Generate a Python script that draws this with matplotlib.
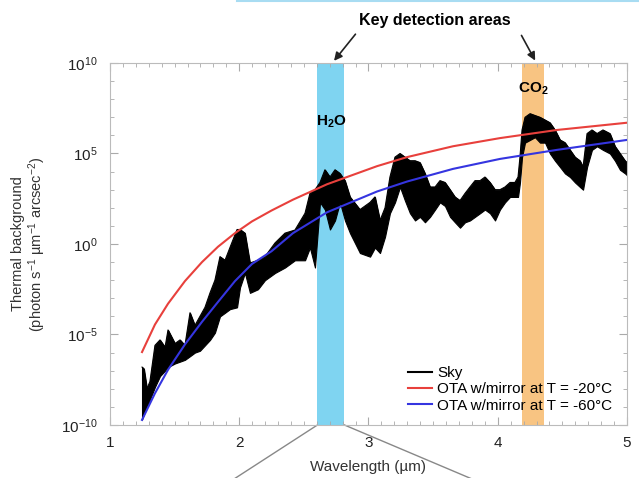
import numpy as np
import matplotlib
matplotlib.use("Agg")
import matplotlib.pyplot as plt
from matplotlib.lines import Line2D
from matplotlib.ticker import LogLocator, MultipleLocator, NullFormatter

plt.rcParams['font.family'] = ['Liberation Sans', 'DejaVu Sans']
plt.rcParams['mathtext.default'] = 'regular'

# sky spectrum, upper / lower envelope (log10 photon s-1 um-1 arcsec-2)
sky_wl = [1.248, 1.263, 1.286, 1.309, 1.348, 1.387, 1.426, 1.449, 1.503, 1.542,
          1.580, 1.619, 1.657, 1.696, 1.735, 1.774, 1.812, 1.851, 1.890, 1.928,
          1.983, 2.006, 2.044, 2.083, 2.145, 2.199, 2.277, 2.354, 2.431, 2.509,
          2.547, 2.586, 2.625, 2.663, 2.702, 2.741, 2.779, 2.818, 2.857, 2.934,
          3.012, 3.050, 3.089, 3.128, 3.166, 3.205, 3.244, 3.282, 3.321, 3.360,
          3.398, 3.437, 3.476, 3.515, 3.553, 3.592, 3.631, 3.669, 3.708, 3.747,
          3.785, 3.824, 3.863, 3.901, 3.940, 3.979, 4.017, 4.056, 4.095, 4.133,
          4.157, 4.172, 4.188, 4.211, 4.250, 4.288, 4.327, 4.366, 4.404, 4.443,
          4.482, 4.520, 4.559, 4.598, 4.636, 4.660, 4.691, 4.729, 4.768, 4.814,
          4.868, 4.907, 4.946, 4.985, 5.000]
sky_hi = [-6.8, -6.9, -8.0, -7.6, -5.6, -5.3, -5.7, -4.75, -5.5, -5.3,
          -5.6, -3.8, -4.5, -4.0, -3.5, -2.7, -2.0, -0.7, -0.9, -0.2,
          0.8, 0.8, 0.6, -1.05, -0.9, -0.7, 0.06, 0.6, 0.77, 1.7,
          2.8, 3.0, 3.4, 4.1, 3.7, 4.1, 3.9, 3.5, 2.6, 1.9,
          2.3, 2.6, 1.3, 2.0, 3.7, 4.8, 5.0, 4.8, 4.6, 4.6,
          4.5, 3.9, 3.15, 3.15, 3.5, 3.4, 3.0, 2.6, 2.4, 2.8,
          3.15, 3.5, 3.5, 3.7, 3.4, 3.0, 3.0, 3.15, 3.4, 3.4,
          3.7, 4.8, 6.3, 7.0, 7.2, 7.1, 7.0, 6.85, 6.7, 6.3,
          5.75, 5.6, 5.2, 4.8, 4.6, 4.25, 6.1, 6.3, 6.1, 6.3,
          6.1, 5.4, 5.0, 4.6, 4.5]
sky_lo = [-9.7, -9.4, -9.0, -8.6, -7.9, -7.3, -7.0, -6.8, -6.6, -6.5,
          -6.4, -6.2, -6.0, -5.9, -5.6, -5.3, -4.9, -4.0, -3.8, -3.6,
          -3.5, -2.4, -1.6, -2.7, -2.5, -2.0, -1.6, -1.3, -0.9, -0.9,
          -0.2, -1.3, 2.3, 1.9, 0.8, 1.3, 2.3, 1.3, 0.6, -0.5,
          -0.7, -0.2, -0.5, 0.4, 1.7, 2.3, 3.15, 2.4, 1.7, 1.3,
          1.5, 1.2, 1.5, 1.9, 2.3, 2.1, 1.5, 1.2, 0.9, 1.2,
          1.3, 1.5, 1.7, 1.9, 1.7, 1.3, 1.9, 2.3, 2.6, 2.6,
          2.6, 3.4, 4.8, 5.6, 5.75, 5.9, 5.6, 5.6, 5.0, 4.6,
          4.25, 3.9, 3.7, 3.4, 3.15, 3.0, 4.25, 5.2, 5.4, 5.2,
          5.0, 4.6, 4.1, 3.9, 3.8]

# OTA curves (log10)
ota_wl = [1.248, 1.348, 1.449, 1.580, 1.712, 1.836, 1.967, 2.099, 2.250,
          2.416, 2.679, 3.066, 3.298, 3.654, 4.017, 4.458, 5.000]
ota_warm = [-5.97, -4.45, -3.3, -2.05, -1.0, -0.15, 0.6, 1.25, 1.85,
            2.45, 3.3, 4.3, 4.8, 5.4, 5.85, 6.3, 6.7]
ota_cold = [-9.72, -8.25, -6.95, -5.55, -4.3, -3.2, -2.05, -1.1, -0.4,
            0.6, 1.75, 2.9, 3.45, 4.15, 4.7, 5.2, 5.75]

h2o_band = (2.605, 2.814)
co2_band = (4.19, 4.36)

fig = plt.figure(figsize=(6.39, 4.78), dpi=100)
ax = fig.add_axes([0.1721, 0.1109, 0.8091, 0.7573])

ax.axvspan(*h2o_band, color='#7fd4f1', lw=0, zorder=1)
ax.axvspan(*co2_band, color='#f8c482', lw=0, zorder=1)

sky_hi_v = 10 ** np.array(sky_hi)
sky_lo_v = 10 ** np.array(sky_lo)
ax.fill_between(sky_wl, sky_lo_v, sky_hi_v, color='black', lw=0.8, zorder=2)
ax.plot(sky_wl, sky_hi_v, color='black', lw=0.8, zorder=2)
ax.plot(ota_wl, 10 ** np.array(ota_warm), color='#e8403c', lw=1.5, zorder=3)
ax.plot(ota_wl, 10 ** np.array(ota_cold), color='#3535e0', lw=1.5, zorder=3)

ax.set_yscale('log')
ax.set_xlim(1, 5)
ax.set_ylim(1e-10, 1e10)
ax.set_xticks([1, 2, 3, 4, 5])
ax.xaxis.set_minor_locator(MultipleLocator(0.1))
ax.set_yticks([1e-10, 1e-5, 1, 1e5, 1e10])
ax.yaxis.set_minor_locator(LogLocator(base=10, subs=(1.0,), numticks=40))
ax.yaxis.set_minor_formatter(NullFormatter())
ax.tick_params(which='both', direction='in', top=True, right=True,
               color='#aaaaaa', labelsize=11, labelcolor='#222222')
ax.tick_params(which='major', length=6)
ax.tick_params(which='minor', length=3)
ax.tick_params(axis='x', which='major', pad=8)
ax.tick_params(axis='y', which='major', pad=9)
for s in ax.spines.values():
    s.set_color('#bbbbbb')

ax.set_xlabel('Wavelength (µm)', fontsize=11, color='#333333', labelpad=7)
ax.set_ylabel('Thermal background\n(photon s$^{-1}$ µm$^{-1}$ arcsec$^{-2}$)',
              fontsize=10.5, color='#333333', linespacing=1.1)
ax.yaxis.set_label_coords(-0.12, 0.5)

ax.text(np.mean(h2o_band), 10 ** 6.75, 'H$_2$O', ha='center', va='center',
        fontsize=11, fontweight='bold', zorder=4)
ax.text(np.mean(co2_band), 10 ** 8.6, 'CO$_2$', ha='center', va='center',
        fontsize=11, fontweight='bold', zorder=4)

fig.text(0.681, 0.958, 'Key detection areas', ha='center', va='center',
         fontsize=11.5, fontweight='bold')
arrow = dict(arrowstyle='-|>', color='#222222', lw=1.2, mutation_scale=12)
ax.annotate('', xy=(2.72, 1e10), xycoords='data', xytext=(0.559, 0.933),
            textcoords='figure fraction', arrowprops=arrow, annotation_clip=False)
ax.annotate('', xy=(4.30, 1e10), xycoords='data', xytext=(0.814, 0.931),
            textcoords='figure fraction', arrowprops=arrow, annotation_clip=False)

# zoom guide lines below the water band and thin slide line on top
ax.plot([h2o_band[0], 1.967], [1e-10, 10 ** -12.95], color='#888888', lw=1,
        clip_on=False, zorder=0)
ax.plot([h2o_band[1], 3.79], [1e-10, 10 ** -12.95], color='#888888', lw=1,
        clip_on=False, zorder=0)
fig.add_artist(Line2D([0.371, 1.0], [0.998, 0.998], color='#a8dcf2', lw=1.5))

handles = [Line2D([], [], color='black', lw=1.5),
           Line2D([], [], color='#e8403c', lw=1.5),
           Line2D([], [], color='#3535e0', lw=1.5)]
labels = ['Sky', 'OTA w/mirror at T = -20°C', 'OTA w/mirror at T = -60°C']
ax.legend(handles, labels, loc='lower right', bbox_to_anchor=(0.995, 0.0),
          frameon=False, fontsize=11, handlelength=1.6, handletextpad=0.3,
          labelspacing=0.15, borderpad=0.3)

fig.savefig('out.png', dpi=100)
